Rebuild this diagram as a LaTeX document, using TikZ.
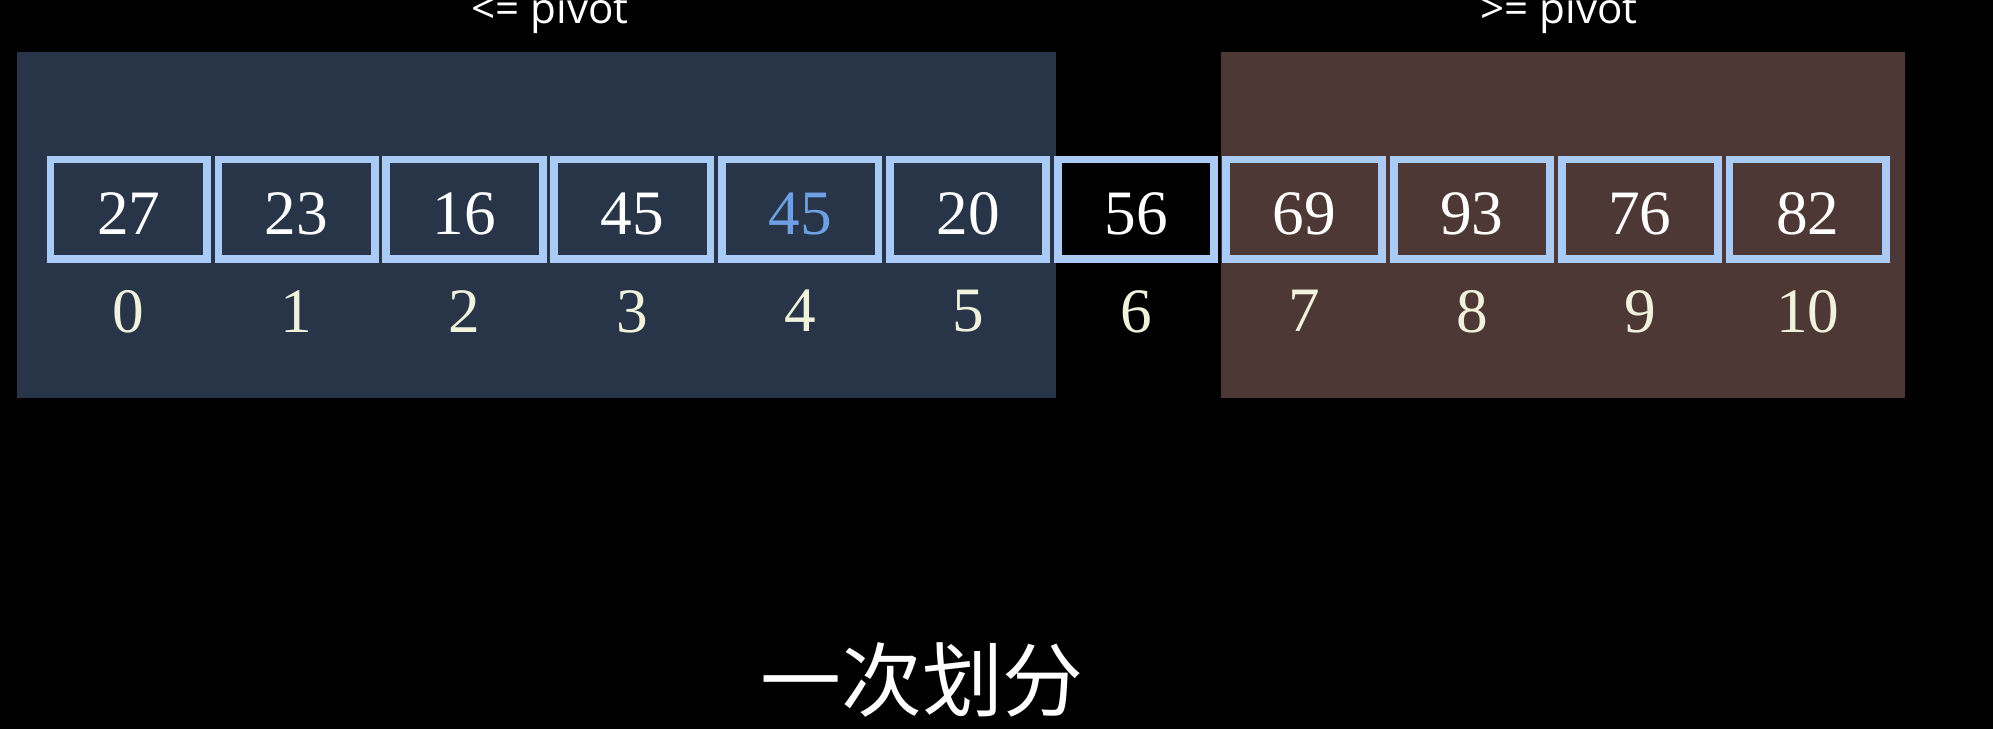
\documentclass[tikz,border=0pt]{standalone}
\usepackage{fontspec}
\setmainfont{Liberation Serif}
\newfontfamily\labelfont{Open Sans}
\newfontfamily\cjk{Noto Sans CJK SC}
\usetikzlibrary{positioning}

\definecolor{leftbg}{HTML}{283548}
\definecolor{rightbg}{HTML}{4D3836}
\definecolor{cellline}{HTML}{A9CBF5}
\definecolor{marked}{HTML}{6E9FE2}
\definecolor{idxtext}{HTML}{F0F2DC}

\begin{document}
\begin{tikzpicture}[
  cell/.style={rectangle,draw=cellline,line width=4.4pt,minimum width=3.126cm,minimum height=1.992cm,inner sep=0pt,text height=1.0cm,text depth=0pt,text=white,font=\fontsize{36}{40}\selectfont},
  idx/.style={inner sep=0pt,text=idxtext,font=\fontsize{36}{40}\selectfont},
  side/.style={anchor=base,text=white,font=\labelfont\fontsize{24}{28}\selectfont}]
\useasboundingbox (0,0) rectangle (39.86,14.58);
\fill[black] (0,0) rectangle (39.86,14.58);
\fill[leftbg] (0.334,6.62) rectangle (21.114,13.54);
\fill[rightbg] (24.414,6.62) rectangle (38.10,13.54);
\node[side] (lo) at (11.0,14.10) {<= pivot};
\node[side] (hi) at (31.18,14.10) {>= pivot};

% the array after one partition
\node[cell] (b0) at (2.574,10.393) {27};
\node[cell] (b1) at (5.932,10.393) {23};
\node[cell] (b2) at (9.290,10.393) {16};
\node[cell] (b3) at (12.648,10.393) {45};
\node[cell,text=marked] (b4) at (16.006,10.393) {45};
\node[cell] (b5) at (19.364,10.393) {20};
\node[cell,fill=black] (b6) at (22.722,10.393) {56};
\node[cell] (b7) at (26.080,10.393) {69};
\node[cell] (b8) at (29.438,10.393) {93};
\node[cell] (b9) at (32.796,10.393) {76};
\node[cell] (b10) at (36.154,10.393) {82};

% indices
\node[idx,below=0.54cm of b0] (i0) {0};
\node[idx,below=0.54cm of b1] (i1) {1};
\node[idx,below=0.54cm of b2] (i2) {2};
\node[idx,below=0.54cm of b3] (i3) {3};
\node[idx,below=0.54cm of b4] (i4) {4};
\node[idx,below=0.54cm of b5] (i5) {5};
\node[idx,below=0.54cm of b6] (i6) {6};
\node[idx,below=0.54cm of b7] (i7) {7};
\node[idx,below=0.54cm of b8] (i8) {8};
\node[idx,below=0.54cm of b9] (i9) {9};
\node[idx,below=0.54cm of b10] (i10) {10};

\node[font=\cjk\fontsize{46}{54}\selectfont,text=white] (title) at (18.44,0.98) {一次划分};
\end{tikzpicture}
\end{document}
